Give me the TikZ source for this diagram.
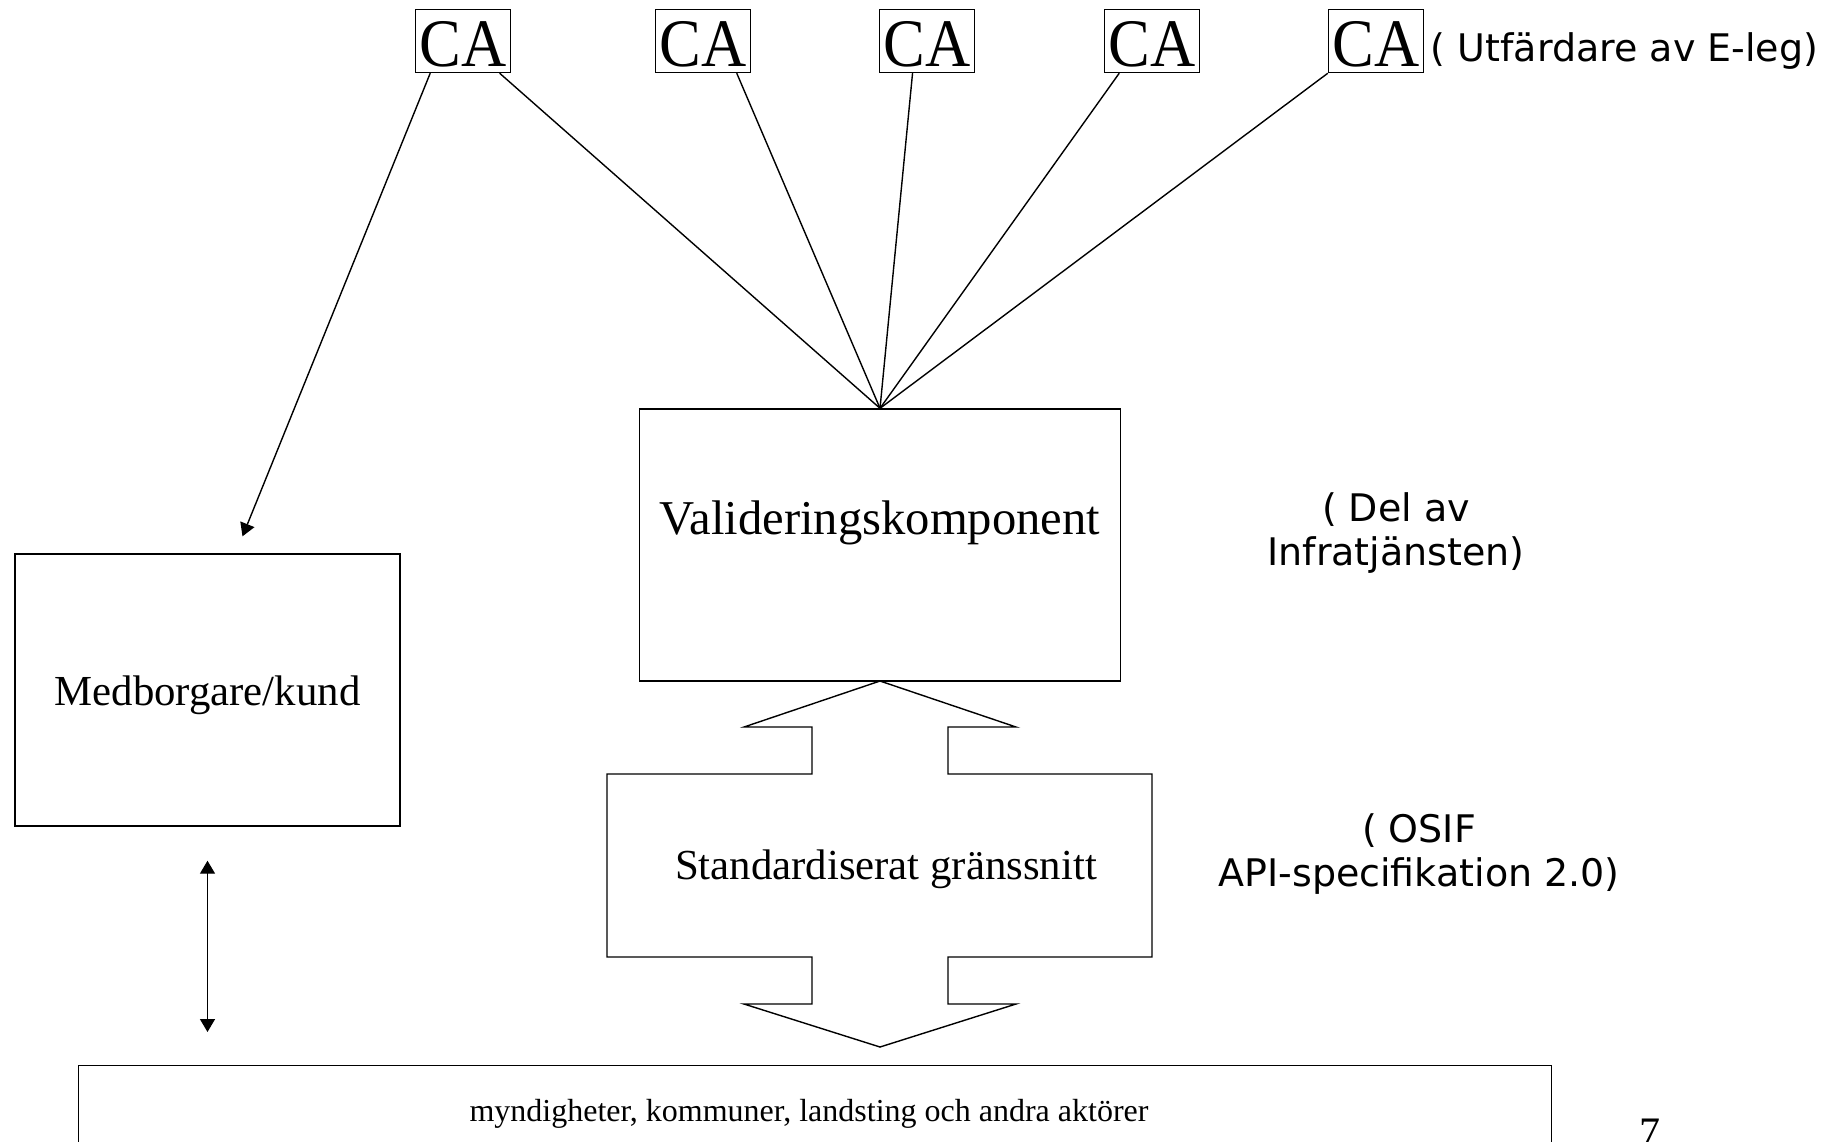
\documentclass[tikz,border=0pt]{standalone}
\usepackage{fontspec}
\setmainfont{Liberation Serif}
\newfontfamily\notefont{DejaVu Sans}
\newfontfamily\cafont[FakeStretch=0.92]{Liberation Serif}
\usetikzlibrary{arrows.meta, positioning, calc}

\begin{document}
\begin{tikzpicture}[x=0.5pt, y=0.5pt, line width=0.7pt,
    >={Triangle[length=6.5pt, width=7.5pt]},
    cabox/.style={draw, inner sep=0pt, minimum width=47.5pt, minimum height=31.5pt,
      text height=25.5pt, font=\cafont\fontsize{34}{34}\selectfont},
    bigbox/.style={draw, minimum height=136pt},
    note/.style={align=center, inner sep=0pt, font=\notefont\fontsize{19}{21.7}\selectfont}]
  \useasboundingbox (0,0) rectangle (1839,-1141);

  % Certificate issuers (top row)
  \foreach \x [count=\i] in {463,703,927,1152,1376}
    \node[cabox] (ca\i) at (\x,-41) {CA};
  \node[note, right=3pt of ca5, yshift=-5pt] (issuer) {( Utfärdare av E-leg)};

  % Validation component
  \node[bigbox, minimum width=240.5pt] (valid) at (880,-545) {};
  \node[font=\fontsize{24.3}{28}\selectfont] (validtxt) at ($(valid.center)+(0,22)$) {Valideringskomponent};
  \node[note] (infra) at (1396,-533) {( Del av\\Infratjänsten)};

  % Citizen
  \node[bigbox, minimum width=192.5pt] (med) at (207.5,-690) {};
  \node[font=\fontsize{21.4}{25}\selectfont] (medtxt) at ($(med.center)+(0,-5)$) {Medborgare/kund};

  % Standard interface (double arrow)
  \draw (880,-681) -- (1016,-727) -- (948,-727) -- (948,-774) -- (1152,-774) -- (1152,-957)
    -- (948,-957) -- (948,-1004) -- (1016,-1004) -- (880,-1047) -- (744,-1004) -- (812,-1004)
    -- (812,-957) -- (607,-957) -- (607,-774) -- (812,-774) -- (812,-727) -- (744,-727) -- cycle;
  \node[font=\fontsize{21.4}{25}\selectfont] (iface) at (886,-869.5) {Standardiserat gränssnitt};
  \node[note] (osif) at (1419,-854) {( OSIF\\API-specifikation 2.0)};

  % Actors (runs off the bottom edge)
  \node[draw, anchor=north, minimum width=736.5pt, minimum height=100pt] (actors) at (815,-1065) {};
  \node[font=\fontsize{16}{19}\selectfont] (actorstxt) at (809,-1114) {myndigheter, kommuner, landsting och andra aktörer};
  \node[anchor=north, inner sep=0pt, font=\fontsize{21}{25}\selectfont] (page) at (1650,-1118) {7};

  % Connectors
  \foreach \i/\f in {1/0.88, 2/0.85, 3/0.35, 4/0.16, 5/0}
    \draw ($(ca\i.south west)!\f!(ca\i.south east)$) -- (valid.north);
  \draw[->] ($(ca1.south west)!0.16!(ca1.south east)$) -- ([shift={(35,17)}]med.north);
  \draw[<->] ([yshift=-17pt]med.south) -- ([yshift=16.5pt]med.south |- actors.north);
\end{tikzpicture}
\end{document}
